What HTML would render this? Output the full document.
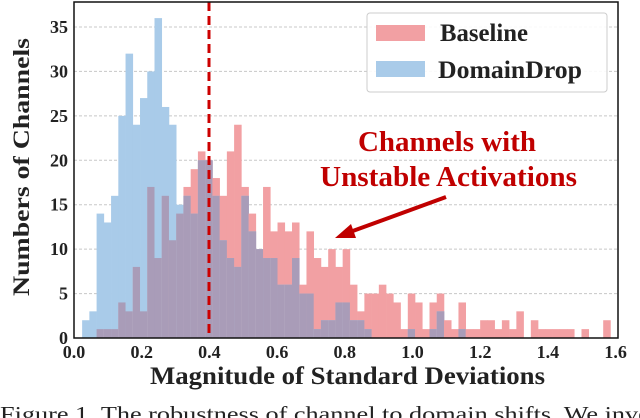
<!DOCTYPE html>
<html><head><meta charset="utf-8">
<style>
html,body{margin:0;padding:0;background:#fff;width:640px;height:418px;overflow:hidden}
svg{display:block}
text{font-family:"Liberation Serif",serif}
</style></head>
<body>
<svg id="chart" width="640" height="418" viewBox="0 0 640 418">
  <g id="grid"></g>
  <g id="bars"></g>
  <line x1="209" y1="2" x2="209" y2="338" stroke="#cc0000" stroke-width="3" stroke-dasharray="9,5"/>
  <rect x="74" y="2" width="544" height="336" fill="none" stroke="#111" stroke-width="1.5"/>
  <g id="yticks"></g>
  <g id="xticks"></g>
  <text x="150" y="384" textLength="395" lengthAdjust="spacingAndGlyphs" font-size="25" font-weight="bold" fill="#222">Magnitude of Standard Deviations</text>
  <text transform="translate(29,296) rotate(-90)" textLength="258" lengthAdjust="spacingAndGlyphs" font-size="23" font-weight="bold" fill="#222">Numbers of Channels</text>
  <g>
    <rect x="367" y="13" width="240" height="79" rx="3" fill="#fff" fill-opacity="0.9" stroke="#ccc" stroke-width="1"/>
    <rect x="376" y="25" width="49" height="16" fill="#f2a0a3"/>
    <text x="440" y="41" textLength="88" lengthAdjust="spacingAndGlyphs" font-size="25" font-weight="bold" fill="#222">Baseline</text>
    <rect x="376" y="61" width="49" height="16" fill="#a9cbe9"/>
    <text x="438" y="78" textLength="144" lengthAdjust="spacingAndGlyphs" font-size="25" font-weight="bold" fill="#222">DomainDrop</text>
  </g>
  <g>
    <text x="358" y="151" textLength="178" lengthAdjust="spacingAndGlyphs" font-size="28" font-weight="bold" fill="#c00000">Channels with</text>
    <text x="320" y="186" textLength="257" lengthAdjust="spacingAndGlyphs" font-size="28" font-weight="bold" fill="#c00000">Unstable Activations</text>
    <line x1="446" y1="197" x2="350" y2="232" stroke="#c00000" stroke-width="4"/>
    <polygon points="335,238 351,224 356,238" fill="#c00000"/>
  </g>
  <text x="0" y="421" textLength="660" lengthAdjust="spacingAndGlyphs" font-size="21" fill="#222">Figure 1.   The robustness of channel to domain shifts. We inves</text>
</svg>
<script>
const binStart = 0.024;
const binWidth = 0.02138;
const baseline = [0,0,1,1,1,4,3,8,3,17,9,16,11,14,17,19,21,20,18,16,21,24,17,14,10,17,12,13,12,13,6,12,9,8,10,8,10,6,3,5,5,6,5,4,1,5,4,1,4,5,2,1,4,1,1,2,2,1,2,1,3,0,2,1,1,1,1,1,0,1,0,0,2];
const domainDrop = [2,3,14,13,16,25,32,24,27,30,36,26,24,15,16,14,20,20,16,11,9,8,16,12,10,9,9,6,6,9,5,5,1,2,2,4,4,2,2,1,0,0,0,0,0,1,0,0,1,3,0,0,1,0,0,0,0,0,0,0,0,0,0,0,0,0,0,0,0,0,0,0,0];
const yTicks = [0,5,10,15,20,25,30,35];
const xTicks = ["0.0","0.2","0.4","0.6","0.8","1.0","1.2","1.4","1.6"];

const NS = "http://www.w3.org/2000/svg";
function xs(v){ return 74 + v*338.5; }
function ys(v){ return 338 - v*8.886; }
function mk(tag, attrs, parent){
  const e = document.createElementNS(NS, tag);
  for (const k in attrs) e.setAttribute(k, attrs[k]);
  parent.appendChild(e);
  return e;
}
const grid = document.getElementById('grid');
const bars = document.getElementById('bars');
const yt = document.getElementById('yticks');
const xt = document.getElementById('xticks');

yTicks.forEach(t => {
  if (t > 0) {
    const g = mk('line', {x1:74, x2:618, y1:ys(t), y2:ys(t), stroke:'#c8c8c8', 'stroke-width':1, 'stroke-dasharray':'3,2'}, grid);
    
    
  }
  const tx = mk('text', {x:68, y:ys(t)+6, 'text-anchor':'end', 'font-size':18, 'font-weight':'bold', fill:'#222'}, yt);
  tx.textContent = t;
  
  
});
xTicks.forEach(t => {
  const tx = mk('text', {x:xs(parseFloat(t)), y:358, 'text-anchor':'middle', 'font-size':18, 'font-weight':'bold', fill:'#222'}, xt);
  tx.textContent = t;
  
  
});

const n = Math.max(baseline.length, domainDrop.length);
for (let i = 0; i < n; i++) {
  const x0 = xs(binStart + i*binWidth), x1 = xs(binStart + (i+1)*binWidth);
  const r = baseline[i] || 0, b = domainDrop[i] || 0;
  const w = x1 - x0 + 0.3;
  if (r > 0) {
    const e = mk('rect', {x:x0, y:ys(r), width:w, height:ys(0)-ys(r), fill:'#f2a0a3'}, bars);
    
    
  }
  if (b > 0) {
    const e = mk('rect', {x:x0, y:ys(b), width:w, height:ys(0)-ys(b), fill:'#a9cbe9'}, bars);
    
    
  }
  const m = Math.min(r, b);
  if (m > 0) {
    const e = mk('rect', {x:x0, y:ys(m), width:w, height:ys(0)-ys(m), fill:'#a99cb8'}, bars);
    
    
  }
}
</script>
</body></html>
